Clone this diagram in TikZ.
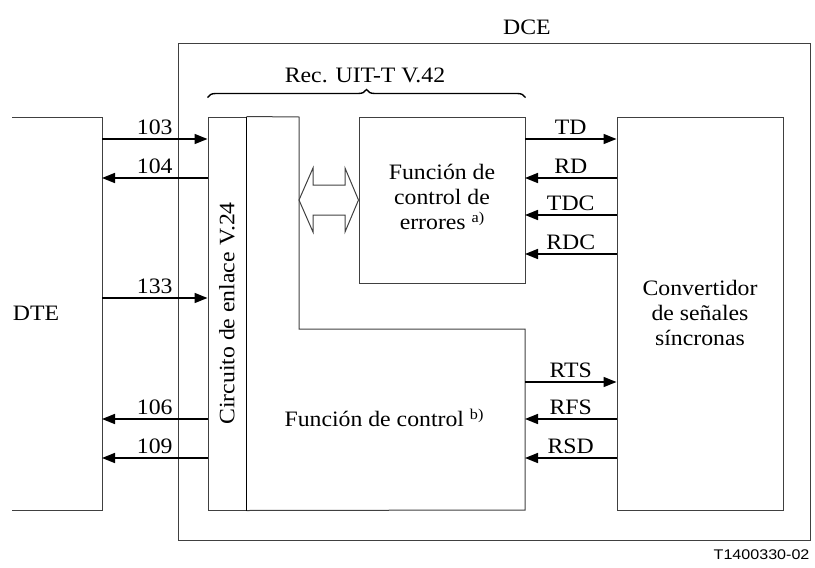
\documentclass[tikz,border=0pt]{standalone}
\usepackage{fontspec}
\setmainfont{Liberation Serif}[FakeStretch=1.08]
\newfontfamily\figfont{Liberation Sans}[FakeStretch=1.15]
\usetikzlibrary{arrows.meta,decorations.pathreplacing}
\newcommand{\notemark}[1]{\raisebox{7pt}{\fontsize{15}{15}\selectfont #1}}

\begin{document}
\begin{tikzpicture}[x=1pt,y=-1pt,
  box/.style={draw=black!75,line width=1pt,inner sep=0pt},
  sig/.style={line width=1.6pt,-{Triangle[length=13pt,width=10pt]}},
  every node/.style={font=\fontsize{22}{25}\selectfont,align=center}]
\useasboundingbox (0,0) rectangle (815,568);
% DCE frame
\node[box,minimum width=632,minimum height=497] (dce) at (494,291.5) {};
\node (dcename) at (527,27) {DCE};
% DTE side
\draw[box] (12,117) -- (102,117) -- (102,510) -- (12,510);
\node (dte) at (36,313) {DTE};
% blocks
\node[box,minimum width=38,minimum height=393] (v24) at (227,313.5) {};
\node[rotate=90] (v24txt) at (v24.center) {Circuito de enlace V.24};
\node[box,minimum width=166,minimum height=166] (err) at (442,200) {};
\node (errtxt) at (442,197) {Función de\\control de\\errores \notemark{a)}};
\node[box,minimum width=166,minimum height=393] (conv) at (700,313.5) {};
\node (convtxt) at (700,313) {Convertidor\\de señales\\síncronas};
\draw[box] (v24.north east) -- (299,117) -- (299,329) -- (525,329) -- (525,510) -- (v24.south east);
\draw[line width=1.6pt] (v24.north east) -- (v24.south east);
\node (ctl) at (384,418) {Función de control \notemark{b)}};
% V.42 brace
\draw[line width=1.4pt,decorate,decoration={brace,amplitude=8pt}]
 ([yshift=19pt]v24.north west) -- ([yshift=19pt]err.north east);
\node (rec) at (365,75) {Rec. UIT-T V.42};
% hollow double arrow
\draw[box] (299,200) -- (313,168) -- (313,185) -- (345,185) -- (345,168) -- (err.west)
 -- (345,232) -- (345,215) -- (313,215) -- (313,232) -- cycle;
% circuits DTE - DCE
\coordinate (c103) at (102,139);
\coordinate (c104) at (102,178);
\coordinate (c133) at (102,298);
\coordinate (c106) at (102,419);
\coordinate (c109) at (102,458);
\draw[sig] (c103) -- (c103 -| v24.west) node[midway,above] (t103) {103};
\draw[sig] (c104 -| v24.west) -- (c104) node[midway,above] (t104) {104};
\draw[sig] (c133) -- (c133 -| v24.west) node[midway,above] (t133) {133};
\draw[sig] (c106 -| v24.west) -- (c106) node[midway,above] (t106) {106};
\draw[sig] (c109 -| v24.west) -- (c109) node[midway,above] (t109) {109};
% signals to converter
\coordinate (td) at (525,139);
\coordinate (rd) at (525,178);
\coordinate (tdc) at (525,215);
\coordinate (rdc) at (525,254);
\coordinate (rts) at (525,382);
\coordinate (rfs) at (525,419);
\coordinate (rsd) at (525,458);
\draw[sig] (td) -- (td -| conv.west) node[midway,above] (ttd) {TD};
\draw[sig] (rd -| conv.west) -- (rd) node[midway,above] (trd) {RD};
\draw[sig] (tdc -| conv.west) -- (tdc) node[midway,above] (ttdc) {TDC};
\draw[sig] (rdc -| conv.west) -- (rdc) node[midway,above] (trdc) {RDC};
\draw[sig] (rts) -- (rts -| conv.west) node[midway,above] (trts) {RTS};
\draw[sig] (rfs -| conv.west) -- (rfs) node[midway,above] (trfs) {RFS};
\draw[sig] (rsd -| conv.west) -- (rsd) node[midway,above] (trsd) {RSD};
\node[anchor=east,font=\figfont\fontsize{14}{14}\selectfont] (figno) at (813,555) {T1400330-02};
\end{tikzpicture}
\end{document}
